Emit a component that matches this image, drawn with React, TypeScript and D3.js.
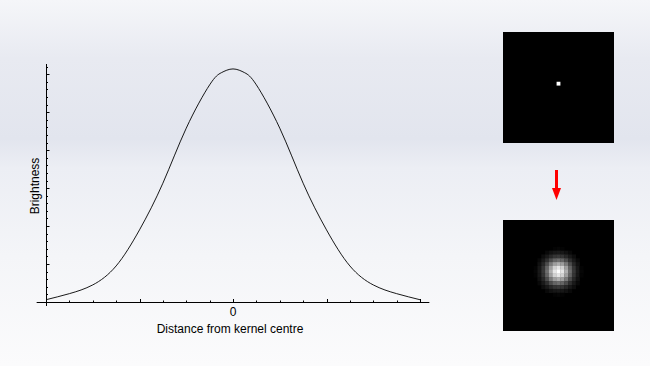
import React from "react";
import * as d3 from "d3";

// kernel profile (distance in kernel units, brightness in axis units)
const distance = [-2, -1.75, -1.5, -1.25, -1, -0.75, -0.5, -0.25, -0.125, 0, 0.125, 0.25, 0.5, 0.75, 1, 1.25, 1.5, 1.75, 2];
const brightness = [0.06, 0.22, 0.45, 0.95, 1.9, 3.13, 4.58, 5.72, 6.04, 6.14, 6.04, 5.72, 4.58, 3.13, 1.9, 0.95, 0.45, 0.22, 0.06];
const xTickLabels = [{ value: 0, label: "0" }];
const yMajorTicks = [0, 1, 2, 3, 4, 5, 6];
const gridSize = 29;
const pointCell = [14, 13];

const W = 650;
const H = 366;

const App = () => {
  const x = d3.scaleLinear().domain([-2, 2]).range([46, 420]);
  const y = d3.scaleLinear().domain([0, 6.27]).range([302, 64]);

  const line = d3
    .line<number>()
    .x((_, i) => x(distance[i]))
    .y((d) => y(d))
    .curve(d3.curveNatural);

  const xMinor = d3.range(-2, 2.01, 0.25);
  const yMinor = d3.range(0, 6.21, 0.2);

  // profile lookup for the blurred image: radial distance -> normalised brightness
  const peak = d3.max(brightness) as number;
  const half = distance.indexOf(0);
  const profile = d3
    .scaleLinear()
    .domain(distance.slice(half))
    .range(brightness.slice(half).map((b) => b / peak))
    .clamp(true);
  const cellsPerUnit = 3.1;

  const cells = d3.range(gridSize);
  const band = d3.scaleBand<number>().domain(cells).range([0, 111]);
  const grid = cells.flatMap((r) => cells.map((c) => ({ r, c })));

  const blurValue = (r: number, c: number) => {
    const dist = Math.hypot(c - pointCell[0], r - pointCell[1]) / cellsPerUnit;
    if (dist >= 2) return 0;
    return Math.pow(Math.max(0, profile(dist) - 0.01), 0.75);
  };

  return (
    <svg
      width={W}
      height={H}
      style={{ position: "absolute", left: 0, top: 0 }}
      fontFamily="'Liberation Sans', Arial, sans-serif"
    >
      <defs>
        <linearGradient id="bg" x1="0" y1="0" x2="0" y2="1">
          <stop offset="0" stopColor="#f5f6f9" />
          <stop offset="0.16" stopColor="#e8eaf1" />
          <stop offset="0.38" stopColor="#e2e5ee" />
          <stop offset="0.46" stopColor="#eceef4" />
          <stop offset="0.7" stopColor="#f4f5f8" />
          <stop offset="1" stopColor="#fbfbfc" />
        </linearGradient>
      </defs>
      <rect width={W} height={H} fill="url(#bg)" />

      {/* axes */}
      <line x1={x(-2.1)} x2={x(2.1)} y1={y(0) + 0.5} y2={y(0) + 0.5} stroke="#000" />
      <line x1={x(-2) + 0.5} x2={x(-2) + 0.5} y1={y(6.27)} y2={y(0) + 4} stroke="#000" />

      {xMinor.map((t) => {
        const major = Math.abs(t - Math.round(t)) < 1e-6;
        return (
          <line
            key={"xt" + t}
            x1={Math.round(x(t)) + 0.5}
            x2={Math.round(x(t)) + 0.5}
            y1={y(0)}
            y2={y(0) - (major ? 3 : 1.5)}
            stroke="#000"
          />
        );
      })}
      {yMinor.map((t) => {
        const major = yMajorTicks.some((m) => Math.abs(m - t) < 1e-6);
        return (
          <line
            key={"yt" + t}
            x1={x(-2)}
            x2={x(-2) + (major ? 3.5 : 2)}
            y1={Math.round(y(t)) + 0.5}
            y2={Math.round(y(t)) + 0.5}
            stroke="#000"
          />
        );
      })}

      {xTickLabels.map((t) => (
        <text key={t.label} x={x(t.value)} y={316} fontSize={12} textAnchor="middle" fill="#000">
          {t.label}
        </text>
      ))}

      <path d={line(brightness) || ""} fill="none" stroke="#000" strokeWidth={0.9} />

      <text x={230} y={333} fontSize={12} textAnchor="middle" fill="#000">
        Distance from kernel centre
      </text>
      <text
        transform="translate(38.5,186) rotate(-90)"
        fontSize={12}
        textAnchor="middle"
        fill="#000"
      >
        Brightness
      </text>

      {/* single point image */}
      <g transform="translate(503,32)">
        <rect width={111} height={111} fill="#000" />
        <rect
          x={band(pointCell[0])}
          y={band(pointCell[1])}
          width={band.bandwidth()}
          height={band.bandwidth()}
          fill="#fff"
        />
      </g>

      {/* arrow */}
      <rect x={555} y={170} width={3} height={19} fill="#ff0000" />
      <path d="M552,188 L561,188 L556.5,200 Z" fill="#ff0000" />

      {/* blurred image */}
      <g transform="translate(503,220)">
        <rect width={111} height={111} fill="#000" />
        {grid.map(({ r, c }) => {
          const v = blurValue(r, c);
          if (v <= 0) return null;
          const g = Math.round(255 * v);
          return (
            <rect
              key={r + "-" + c}
              x={band(c)}
              y={band(r)}
              width={band.bandwidth() + 0.3}
              height={band.bandwidth() + 0.3}
              fill={`rgb(${g},${g},${g})`}
            />
          );
        })}
      </g>
    </svg>
  );
};

export default App;
